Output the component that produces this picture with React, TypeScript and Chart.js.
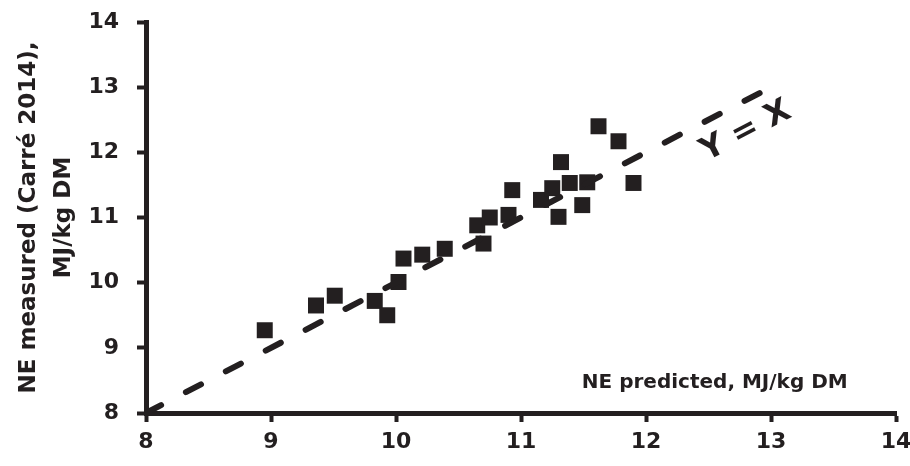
import React, { useEffect, useRef } from "react";
import { Chart, registerables } from "chart.js";

Chart.register(...registerables);

const predicted = [8.95, 9.36, 9.51, 9.83, 9.93, 10.02, 10.06, 10.21, 10.39, 10.65, 10.70, 10.75, 10.90, 10.93, 11.16, 11.25, 11.30, 11.32, 11.39, 11.49, 11.53, 11.62, 11.78, 11.90];
const measured = [9.27, 9.65, 9.80, 9.72, 9.50, 10.01, 10.37, 10.43, 10.52, 10.88, 10.60, 11.00, 11.04, 11.42, 11.27, 11.45, 11.01, 11.85, 11.53, 11.19, 11.54, 12.40, 12.17, 11.53];
const identityX = [8, 13];
const identityY = [8, 13];
const xTicks = [8, 9, 10, 11, 12, 13, 14];
const yTicks = [8, 9, 10, 11, 12, 13, 14];
const yTitle = ["NE measured (Carré 2014),", "MJ/kg DM"];
const xTitle = "NE predicted, MJ/kg DM";
const lineLabel = "Y = X";

const INK = "#231f20";
const FONT = "'DejaVu Sans', sans-serif";

export default function App() {
  const ref = useRef<HTMLCanvasElement>(null);

  useEffect(() => {
    if (!ref.current) return;
    const annot = {
      id: "annot",
      afterDatasetsDraw(chart: any) {
        const { ctx } = chart;
        const x = chart.scales.x;
        const y = chart.scales.y;
        const ax = x.getPixelForValue(identityX[0]);
        const ay = y.getPixelForValue(identityY[0]);
        const bx = x.getPixelForValue(identityX[1]);
        const by = y.getPixelForValue(identityY[1]);
        const ang = Math.atan2(by - ay, bx - ax);
        ctx.save();
        ctx.fillStyle = INK;
        ctx.textAlign = "center";
        ctx.textBaseline = "middle";
        ctx.translate(x.getPixelForValue(12.8), y.getPixelForValue(12.32));
        ctx.rotate(ang);
        ctx.font = `bold 32px ${FONT}`;
        ctx.fillText(lineLabel, 0, 0);
        ctx.restore();
        ctx.save();
        ctx.fillStyle = INK;
        ctx.textAlign = "center";
        ctx.textBaseline = "middle";
        ctx.font = `bold 20px ${FONT}`;
        ctx.fillText(xTitle, x.getPixelForValue(12.55), y.getPixelForValue(8.46));
        ctx.restore();
      },
    };

    const chart = new Chart(ref.current, {
      type: "scatter",
      data: {
        datasets: [
          {
            data: predicted.map((v, i) => ({ x: v, y: measured[i] })),
            pointStyle: "rect",
            pointRadius: 11.3,
            pointHoverRadius: 11.3,
            backgroundColor: INK,
            borderWidth: 0,
            order: 1,
          },
          {
            type: "line",
            data: identityX.map((v, i) => ({ x: v, y: identityY[i] })),
            showLine: true,
            borderColor: INK,
            borderWidth: 6,
            borderDash: [17, 28],
            borderCapStyle: "round",
            pointRadius: 0,
            fill: false,
            order: 0,
          } as any,
        ],
      },
      options: {
        animation: false,
        responsive: false,
        maintainAspectRatio: false,
        events: [],
        layout: { padding: { left: 0, right: 14, top: 22, bottom: 0 } },
        plugins: { legend: { display: false }, tooltip: { enabled: false } },
        scales: {
          x: {
            type: "linear",
            min: 8,
            max: 14,
            afterBuildTicks: (s: any) => {
              s.ticks = xTicks.map((v) => ({ value: v }));
            },
            afterFit: (s: any) => {
              s.height = 53;
              s.paddingRight = 0;
              s.paddingLeft = 0;
            },
            border: { display: true, color: INK, width: 5 },
            grid: {
              display: true,
              drawOnChartArea: false,
              drawTicks: true,
              tickLength: 9,
              tickWidth: 4,
              tickColor: INK,
              color: INK,
            },
            ticks: {
              color: INK,
              padding: 7,
              font: { family: FONT, size: 22, weight: "bold" },
            },
          },
          y: {
            type: "linear",
            min: 8,
            max: 14,
            afterBuildTicks: (s: any) => {
              s.ticks = yTicks.map((v) => ({ value: v }));
            },
            afterFit: (s: any) => {
              s.width = 146;
              s.paddingTop = 0;
              s.paddingBottom = 0;
            },
            border: { display: true, color: INK, width: 5 },
            grid: {
              display: true,
              drawOnChartArea: false,
              drawTicks: true,
              tickLength: 9,
              tickWidth: 4,
              tickColor: INK,
              color: INK,
            },
            ticks: {
              color: INK,
              padding: 18,
              font: { family: FONT, size: 22, weight: "bold" },
            },
            title: {
              display: true,
              text: yTitle,
              color: INK,
              padding: { top: 12, bottom: 0 },
              font: { family: FONT, size: 23, weight: "bold", lineHeight: 1.5 },
            },
          },
        },
      },
      plugins: [annot],
    });
    return () => chart.destroy();
  }, []);

  return (
    <div style={{ position: "fixed", left: 0, top: 0, width: 910, height: 466, background: "#fff" }}>
      <canvas ref={ref} width={910} height={466} style={{ width: 910, height: 466, display: "block" }} />
    </div>
  );
}
